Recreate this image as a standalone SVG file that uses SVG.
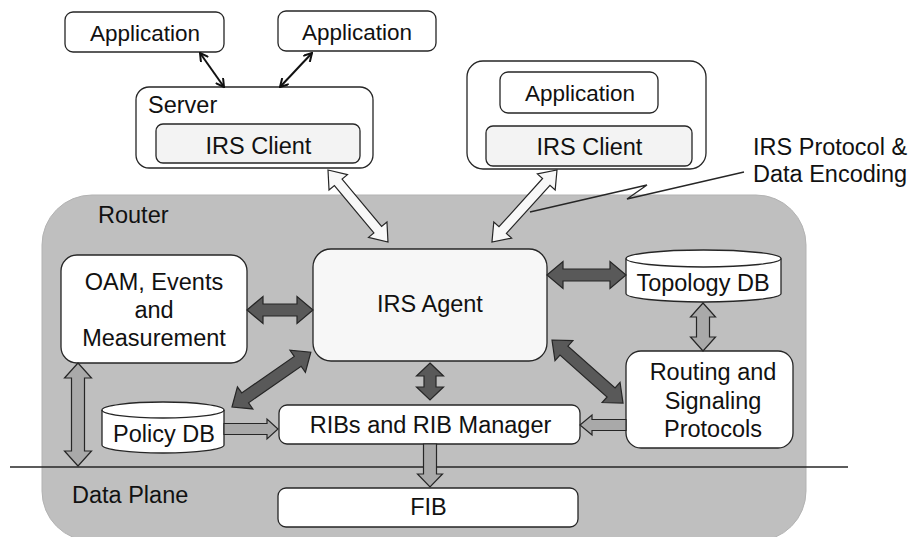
<svg xmlns="http://www.w3.org/2000/svg" width="911" height="537" viewBox="0 0 911 537">
<style>
text{font-family:"Liberation Sans",Arial,sans-serif;font-size:23.5px;fill:#111;}
.c{text-anchor:middle;}
.box{fill:#fff;stroke:#262626;stroke-width:1.3;}
.inner{fill:#f3f3f3;stroke:#262626;stroke-width:1.3;}
.agent{fill:#f7f7f7;stroke:#262626;stroke-width:1.3;}
.dark{fill:#595959;stroke:#262626;stroke-width:1.2;stroke-linejoin:miter;}
.light{fill:#a9a9a9;stroke:#262626;stroke-width:1.2;}
.white{fill:#f8f8f8;stroke:#262626;stroke-width:1.2;}
.thin{stroke:#111;stroke-width:2;fill:none;marker-start:url(#v);marker-end:url(#v);}
</style>
<defs>
<marker id="v" viewBox="0 0 10 10" refX="9" refY="5" markerWidth="10" markerHeight="10" markerUnits="userSpaceOnUse" orient="auto-start-reverse">
<path d="M1,0.5 L9,5 L1,9.5" fill="none" stroke="#111" stroke-width="2"/>
</marker>
</defs>
<g id="router">
<rect x="42" y="195" width="764" height="346" rx="50" fill="#bfbfbf" stroke="#b3b3b3" stroke-width="1"/>
<text x="98" y="223">Router</text>
<text x="72" y="503">Data Plane</text>
</g>
<line id="plane-line" x1="10" y1="467" x2="848" y2="467" stroke="#262626" stroke-width="1.3"/>
<g id="app1"><rect class="box" x="65" y="12" width="159" height="40" rx="8"/><text class="c" x="145" y="40.5" style="font-size:22.5px">Application</text></g>
<g id="app2"><rect class="box" x="278" y="11" width="158" height="40" rx="8"/><text class="c" x="357" y="40" style="font-size:22.5px">Application</text></g>
<g id="server"><rect class="box" x="136" y="87" width="237" height="81" rx="13"/><text x="148" y="113">Server</text>
<rect class="inner" x="156" y="124" width="204" height="39" rx="7"/><text class="c" x="258.5" y="153.5">IRS Client</text></g>
<g id="host"><rect class="box" x="467" y="61" width="239" height="108" rx="16"/>
<rect class="box" x="500" y="72" width="158" height="41" rx="8"/><text class="c" x="580" y="100.5" style="font-size:22.5px">Application</text>
<rect class="inner" x="486" y="126" width="206" height="40" rx="7"/><text class="c" x="589.5" y="155">IRS Client</text></g>
<g id="label"><text x="753" y="155">IRS Protocol &amp;</text><text x="753" y="182">Data Encoding</text></g>
<g id="oam"><rect class="box" x="61" y="255" width="186" height="108" rx="16"/>
<text class="c" x="154" y="290">OAM, Events</text><text class="c" x="154" y="318">and</text><text class="c" x="154" y="346">Measurement</text></g>
<g id="agent"><rect class="agent" x="313" y="249" width="234" height="112" rx="18"/><text class="c" x="430" y="311.5">IRS Agent</text></g>
<g id="topology"><path class="box" d="M626,258.5 A77.5,8.5 0 0 1 781,258.5 L781,293.5 A77.5,8.5 0 0 1 626,293.5 Z"/><path d="M626,258.5 A77.5,8.5 0 0 0 781,258.5" fill="none" stroke="#262626" stroke-width="1.3"/><text class="c" x="703" y="291">Topology DB</text></g>
<g id="routing"><rect class="box" x="626" y="351" width="167" height="97" rx="15"/>
<text class="c" x="713" y="380">Routing and</text><text class="c" x="713" y="408.5">Signaling</text><text class="c" x="713" y="437">Protocols</text></g>
<g id="policy"><path class="box" d="M102,410 A61,8 0 0 1 224,410 L224,445 A61,8 0 0 1 102,445 Z"/><path d="M102,410 A61,8 0 0 0 224,410" fill="none" stroke="#262626" stroke-width="1.3"/><text class="c" x="164" y="442">Policy DB</text></g>
<g id="ribs"><rect class="box" x="279" y="405" width="301" height="39" rx="8"/><text class="c" x="430.5" y="433">RIBs and RIB Manager</text></g>
<g id="fib"><rect class="box" x="278" y="488" width="300" height="39" rx="8"/><text class="c" x="428.5" y="515">FIB</text></g>
<g id="connectors">
<line class="thin" x1="200" y1="53" x2="224" y2="87"/>
<line class="thin" x1="312" y1="53" x2="280" y2="87"/>
<polygon class="white" transform="translate(328,170) rotate(50.2)" points="0,0 16,-12 16,-5 77.7,-5 77.7,-12 93.7,0 77.7,12 77.7,5 16,5 16,12"/>
<polygon class="white" transform="translate(557,170) rotate(132.1)" points="0,0 16,-12 16,-5 81,-5 81,-12 97,0 81,12 81,5 16,5 16,12"/>
<polyline points="744,172 627,199 647,185 530,212" fill="none" stroke="#262626" stroke-width="1.3"/>
<polygon class="dark" transform="translate(247,310)" points="0,0 16,-13.5 16,-6 50,-6 50,-13.5 66,0 50,13.5 50,6 16,6 16,13.5"/>
<polygon class="dark" transform="translate(547,275)" points="0,0 16,-13.5 16,-6 63,-6 63,-13.5 79,0 63,13.5 63,6 16,6 16,13.5"/>
<polygon class="dark" transform="translate(552,340) rotate(41.6)" points="0,0 16,-13.5 16,-6 79,-6 79,-13.5 95,0 79,13.5 79,6 16,6 16,13.5"/>
<polygon class="dark" transform="translate(232,407) rotate(-34.8)" points="0,0 16,-13.5 16,-6 80,-6 80,-13.5 96,0 80,13.5 80,6 16,6 16,13.5"/>
<polygon class="dark" transform="translate(430,363) rotate(90)" points="0,0 13,-13.5 13,-6 24,-6 24,-13.5 37,0 24,13.5 24,6 13,6 13,13.5"/>
<polygon class="light" transform="translate(703,303) rotate(90)" points="0,0 14,-12.5 14,-6.5 34,-6.5 34,-12.5 48,0 34,12.5 34,6.5 14,6.5 14,12.5"/>
<polygon class="light" transform="translate(78,363) rotate(90)" points="0,0 15,-13.5 15,-6.5 88,-6.5 88,-13.5 103,0 88,13.5 88,6.5 15,6.5 15,13.5"/>
<polygon class="light" transform="translate(224,429)" points="0,-5.5 43,-5.5 43,-10 54,0 43,10 43,5.5 0,5.5"/>
<polygon class="light" transform="translate(626,425) rotate(180)" points="0,-5.5 34,-5.5 34,-10 46,0 34,10 34,5.5 0,5.5"/>
<polygon class="light" transform="translate(430,444) rotate(90)" points="0,-6.5 30,-6.5 30,-12.5 43,0 30,12.5 30,6.5 0,6.5"/>
</g>
</svg>
